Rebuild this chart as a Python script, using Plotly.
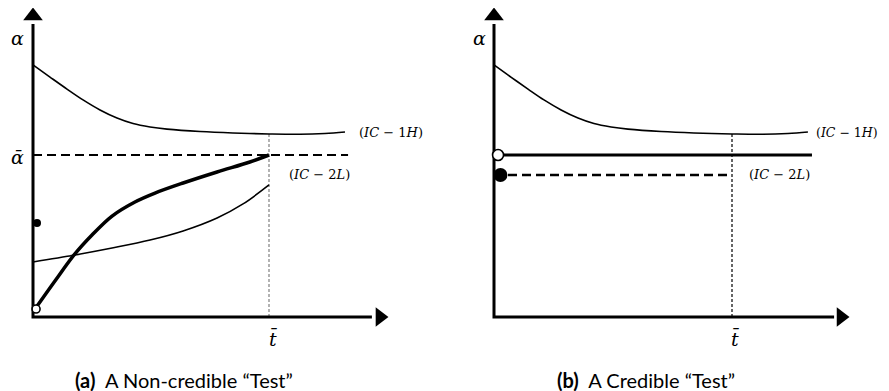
import plotly.graph_objects as go

# ---------------- Panel (a): A Non-credible "Test" ----------------
# (IC-1H) indifference curve
IC1H_A_T = [0.0, 0.072, 0.144, 0.212, 0.284, 0.356, 0.424, 0.496, 0.568, 0.708, 0.847, 1.0, 1.131, 1.237, 1.322]
IC1H_A_ALPHA = [1.556, 1.481, 1.407, 1.340, 1.278, 1.228, 1.194, 1.173, 1.160, 1.145, 1.136, 1.130, 1.128, 1.133, 1.142]
# thick equilibrium path
PATH_A_T = [0.0085, 0.093, 0.174, 0.250, 0.335, 0.432, 0.517, 0.636, 0.780, 0.919, 1.0]
PATH_A_ALPHA = [0.049, 0.222, 0.383, 0.506, 0.623, 0.710, 0.765, 0.827, 0.895, 0.957, 1.0]
# (IC-2L) indifference curve
IC2L_A_T = [0.0, 0.178, 0.335, 0.496, 0.636, 0.780, 0.890, 1.0]
IC2L_A_ALPHA = [0.340, 0.383, 0.426, 0.475, 0.531, 0.611, 0.698, 0.815]
# alpha-bar dashed level
ABAR_A_T = [0.0, 1.335]
ABAR_A_ALPHA = [1.0, 1.0]
# t-bar vertical guide
TBAR_A_T = [1.0, 1.0]
TBAR_A_ALPHA = [0.0, 1.136]
# points
DOT_A = (0.017, 0.580)
OPEN_A = (0.013, 0.049)

# ---------------- Panel (b): A Credible "Test" ----------------
IC1H_B_T = [0.0, 0.071, 0.143, 0.210, 0.282, 0.353, 0.420, 0.492, 0.563, 0.702, 0.840, 1.0, 1.130, 1.235, 1.319]
IC1H_B_ALPHA = [1.556, 1.481, 1.407, 1.340, 1.278, 1.228, 1.194, 1.173, 1.160, 1.145, 1.136, 1.130, 1.128, 1.133, 1.142]
PATH_B_T = [0.0, 1.336]
PATH_B_ALPHA = [1.0, 1.0]
IC2L_B_T = [0.0, 1.0]
IC2L_B_ALPHA = [0.877, 0.877]
TBAR_B_T = [1.0, 1.0]
TBAR_B_ALPHA = [0.0, 1.136]
DOT_B = (0.027, 0.877)
OPEN_B = (0.017, 1.0)

# axes (arrows) in data units for each panel
AX_A = dict(x_end=1.436, x_tip=1.470, y_end=1.809, y_tip=1.858)
AX_B = dict(x_end=1.429, x_tip=1.458, y_end=1.809, y_tip=1.858)

LABEL_FONT = "DejaVu Serif"
IC1H_TEXT = "(<i>IC</i> − 1<i>H</i>)"
IC2L_TEXT = "(<i>IC</i> − 2<i>L</i>)"

fig = go.Figure()


def add_panel(xa, ya, ic1h, path, ic2l, tbar, dot, open_pt, ax, path_w, path_dash,
              ic2l_w, ic2l_dash, tbar_color, tbar_dash, dot_size, open_size, abar=None):
    xr, yr = xa, ya
    fig.add_trace(go.Scatter(x=tbar[0], y=tbar[1], mode="lines", xaxis=xr, yaxis=yr,
                             line=dict(color=tbar_color, width=1.2, dash=tbar_dash), hoverinfo="skip"))
    if abar is not None:
        fig.add_trace(go.Scatter(x=abar[0], y=abar[1], mode="lines", xaxis=xr, yaxis=yr,
                                 line=dict(color="black", width=2, dash="9px,5px"), hoverinfo="skip"))
    fig.add_trace(go.Scatter(x=ic1h[0], y=ic1h[1], mode="lines", xaxis=xr, yaxis=yr,
                             line=dict(color="black", width=1.6, shape="spline", smoothing=1.0),
                             hoverinfo="skip"))
    fig.add_trace(go.Scatter(x=ic2l[0], y=ic2l[1], mode="lines", xaxis=xr, yaxis=yr,
                             line=dict(color="black", width=ic2l_w, shape="spline", smoothing=1.0,
                                       dash=ic2l_dash), hoverinfo="skip"))
    fig.add_trace(go.Scatter(x=path[0], y=path[1], mode="lines", xaxis=xr, yaxis=yr,
                             line=dict(color="black", width=path_w, shape="spline", smoothing=1.0,
                                       dash=path_dash), hoverinfo="skip"))
    fig.add_trace(go.Scatter(x=[0, 0, ax["x_end"]], y=[ax["y_end"], 0, 0], mode="lines",
                             xaxis=xr, yaxis=yr, line=dict(color="black", width=3), hoverinfo="skip"))
    fig.add_trace(go.Scatter(x=[ax["x_tip"]], y=[0], mode="markers", xaxis=xr, yaxis=yr,
                             marker=dict(symbol="triangle-right", size=17, color="black"), hoverinfo="skip"))
    fig.add_trace(go.Scatter(x=[0], y=[ax["y_tip"]], mode="markers", xaxis=xr, yaxis=yr,
                             marker=dict(symbol="triangle-up", size=17, color="black"), hoverinfo="skip"))
    fig.add_trace(go.Scatter(x=[dot[0]], y=[dot[1]], mode="markers", xaxis=xr, yaxis=yr,
                             marker=dict(size=dot_size, color="black"), hoverinfo="skip"))
    fig.add_trace(go.Scatter(x=[open_pt[0]], y=[open_pt[1]], mode="markers", xaxis=xr, yaxis=yr,
                             marker=dict(size=open_size, color="white", line=dict(color="black", width=1.6)),
                             hoverinfo="skip"))


add_panel("x", "y", (IC1H_A_T, IC1H_A_ALPHA), (PATH_A_T, PATH_A_ALPHA), (IC2L_A_T, IC2L_A_ALPHA),
          (TBAR_A_T, TBAR_A_ALPHA), DOT_A, OPEN_A, AX_A, path_w=3.5, path_dash="solid",
          ic2l_w=1.6, ic2l_dash="solid", tbar_color="#808080", tbar_dash="3px,2px",
          dot_size=8, open_size=8, abar=(ABAR_A_T, ABAR_A_ALPHA))
add_panel("x2", "y2", (IC1H_B_T, IC1H_B_ALPHA), (PATH_B_T, PATH_B_ALPHA), (IC2L_B_T, IC2L_B_ALPHA),
          (TBAR_B_T, TBAR_B_ALPHA), DOT_B, OPEN_B, AX_B, path_w=3.2, path_dash="solid",
          ic2l_w=2.6, ic2l_dash="9px,5px", tbar_color="black", tbar_dash="3px,2px",
          dot_size=14, open_size=11)

ann = []


def lab(text, x, y, xref, yref, size, xanchor="center", font=LABEL_FONT):
    ann.append(dict(text=text, x=x, y=y, xref=xref, yref=yref, showarrow=False, xanchor=xanchor,
                    yanchor="middle", font=dict(family=font, size=size, color="black")))


# panel (a) labels
lab("<i>α</i>", -0.064, 1.722, "x", "y", 19)
lab("<i>α\u0304</i>", -0.064, 0.985, "x", "y", 19)
lab(IC1H_TEXT, 1.373, 1.136, "x", "y", 13, "left")
lab(IC2L_TEXT, 1.076, 0.877, "x", "y", 13, "left")
lab("<i>t\u0304</i>", 1.017, -0.135, "x", "y", 19)
# panel (b) labels
lab("<i>α</i>", -0.063, 1.722, "x2", "y2", 19)
lab(IC1H_TEXT, 1.345, 1.136, "x2", "y2", 12.5, "left")
lab(IC2L_TEXT, 1.063, 0.877, "x2", "y2", 13, "left")
lab("<i>t\u0304</i>", 1.013, -0.135, "x2", "y2", 19)
# captions
lab("<b>(a)</b>  A Non-credible “Test”", 0.2003, 0.0287, "paper", "paper", 20, "center", "Lato")
lab("<b>(b)</b>  A Credible “Test”", 0.7242, 0.0287, "paper", "paper", 20, "center", "Lato")

# the page body has an 8px margin, so the figure is 881x383 and shifted accordingly
W, H = 881, 383
split = 436 / W
axis_common = dict(visible=False, showgrid=False, zeroline=False, fixedrange=True)
fig.update_layout(
    width=W, height=H, autosize=False,
    margin=dict(l=0, r=0, t=0, b=0),
    paper_bgcolor="white", plot_bgcolor="white",
    showlegend=False,
    xaxis=dict(domain=[0, split], range=[-25 / 236, 411 / 236], anchor="y", **axis_common),
    yaxis=dict(domain=[0, 1], range=[-74 / 162, 309 / 162], anchor="x", **axis_common),
    xaxis2=dict(domain=[split, 1], range=[-50 / 238, 395 / 238], anchor="y2", **axis_common),
    yaxis2=dict(domain=[0, 1], range=[-74 / 162, 309 / 162], anchor="x2", **axis_common),
    annotations=ann,
)

fig.write_html("out.html")
